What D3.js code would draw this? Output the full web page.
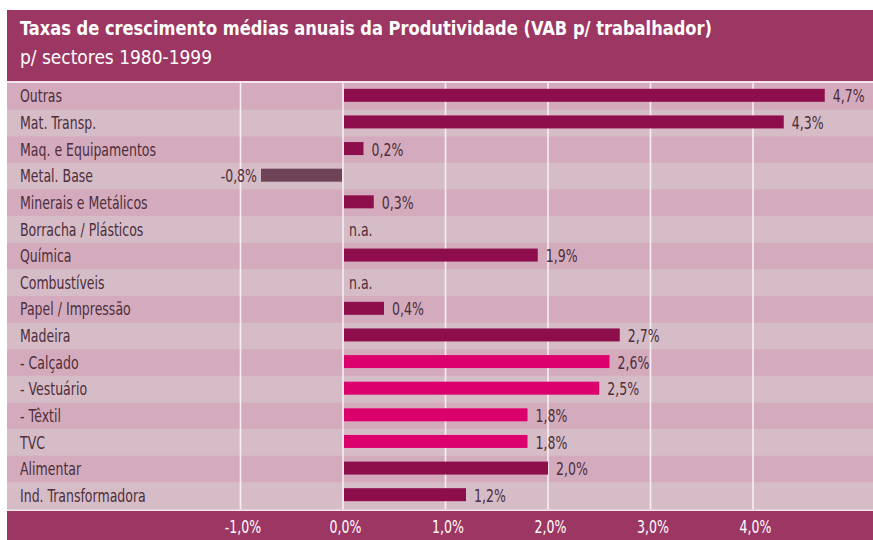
<!DOCTYPE html>
<html>
<head>
<meta charset="utf-8">
<script src="https://cdn.jsdelivr.net/npm/d3@7"></script>
<style>
  body { margin: 0; background: #fff; }
  text { font-family: "Liberation Sans Narrow", "DejaVu Sans Condensed", sans-serif; }
</style>
</head>
<body>
<script>
// sectors, top to bottom
const sectors = ["Outras", "Mat. Transp.", "Maq. e Equipamentos", "Metal. Base",
  "Minerais e Metálicos", "Borracha / Plásticos", "Química", "Combustíveis",
  "Papel / Impressão", "Madeira", "- Calçado", "- Vestuário", "- Têxtil", "TVC",
  "Alimentar", "Ind. Transformadora"];
// average annual growth, % (null = n.a.)
const values = [4.7, 4.3, 0.2, -0.8, 0.3, null, 1.9, null, 0.4, 2.7, 2.6, 2.5, 1.8, 1.8, 2.0, 1.2];
// textile sub-sectors are highlighted
const highlight = ["- Calçado", "- Vestuário", "- Têxtil", "TVC"];
const ticks = [-1, 0, 1, 2, 3, 4];

const title = "Taxas de crescimento médias anuais da Produtividade (VAB p/ trabalhador)";
const subtitle = "p/ sectores 1980-1999";

const W = 873, H = 540;
const frame = {left: 7, top: 10};
const plot = {top: 83, bottom: 509};
const squeeze = 0.82; // fake a condensed face

const svg = d3.select("body").append("svg")
    .attr("width", W)
    .attr("height", H);

svg.append("rect")
    .attr("x", frame.left).attr("y", frame.top)
    .attr("width", W - frame.left).attr("height", H - frame.top)
    .attr("fill", "#9c3763");

svg.append("text")
    .attr("x", 20).attr("y", 35)
    .attr("fill", "#fff")
    .attr("font-size", 20).attr("font-weight", "bold")
    .attr("textLength", 692).attr("lengthAdjust", "spacingAndGlyphs")
    .text(title);

svg.append("text")
    .attr("x", 20).attr("y", 64)
    .attr("fill", "#fff")
    .attr("font-size", 20)
    .attr("textLength", 192).attr("lengthAdjust", "spacingAndGlyphs")
    .text(subtitle);

const x = d3.scaleLinear()
    .domain([0, 4])
    .range([343, 753]);

const y = d3.scaleBand()
    .domain(sectors)
    .range([plot.top, plot.bottom]);

// white separator lines above and below the plot
svg.append("rect")
    .attr("x", frame.left).attr("y", plot.top - 2)
    .attr("width", W - frame.left).attr("height", plot.bottom - plot.top + 4)
    .attr("fill", "#f4e6ec");

// row stripes
svg.append("g").selectAll("rect")
    .data(sectors)
    .join("rect")
    .attr("x", frame.left)
    .attr("y", d => y(d))
    .attr("width", W - frame.left)
    .attr("height", y.bandwidth() + 0.5)
    .attr("fill", (d, i) => i % 2 === 0 ? "#d4abbd" : "#d5bcc7");

// gridlines
svg.append("g").selectAll("line")
    .data(ticks)
    .join("line")
    .attr("x1", d => x(d)).attr("x2", d => x(d))
    .attr("y1", plot.top).attr("y2", plot.bottom)
    .attr("stroke", "#f6eef2")
    .attr("stroke-width", 1.6);

const rows = sectors.map((s, i) => ({name: s, v: values[i]}));
const midY = d => y(d.name) + y.bandwidth() / 2;

// category labels
svg.append("g").selectAll("text")
    .data(rows)
    .join("text")
    .attr("transform", d => `translate(20,${midY(d)}) scale(${squeeze},1)`)
    .attr("dy", "0.36em")
    .attr("fill", "#4d2e3c")
    .attr("font-size", 17)
    .text(d => d.name);

const barH = 13;
const colour = d => d.v < 0 ? "#6e4257" : (highlight.includes(d.name) ? "#dc006d" : "#8e0e4c");

svg.append("g").selectAll("rect")
    .data(rows.filter(d => d.v !== null))
    .join("rect")
    .attr("x", d => d.v < 0 ? x(d.v) : x(0) + 1)
    .attr("y", d => midY(d) - barH / 2 - 1)
    .attr("width", d => Math.abs(x(d.v) - x(0)) - 1)
    .attr("height", barH)
    .attr("fill", colour);

const fmt = v => v.toFixed(1).replace(".", ",") + "%";

// value labels
svg.append("g").selectAll("text")
    .data(rows)
    .join("text")
    .attr("transform", d => {
      const lx = d.v === null ? x(0) + 6 : (d.v < 0 ? x(d.v) - 4 : x(d.v) + 8);
      return `translate(${lx},${midY(d)}) scale(${squeeze},1)`;
    })
    .attr("dy", "0.36em")
    .attr("text-anchor", d => d.v !== null && d.v < 0 ? "end" : "start")
    .attr("fill", "#4d2e3c")
    .attr("font-size", 17)
    .text(d => d.v === null ? "n.a." : fmt(d.v));

// bottom axis
const axis = svg.append("g")
    .attr("transform", `translate(0,${plot.bottom + 2})`)
    .call(d3.axisBottom(x).tickValues(ticks).tickFormat(d => fmt(d)).tickSize(0).tickPadding(10));
axis.select(".domain").remove();
axis.selectAll(".tick text")
    .attr("fill", "#fff")
    .attr("font-size", 17)
    .attr("transform", `translate(2,0) scale(${squeeze},1)`)
    .style("font-family", "'Liberation Sans Narrow', 'DejaVu Sans Condensed', sans-serif");
</script>
</body>
</html>
